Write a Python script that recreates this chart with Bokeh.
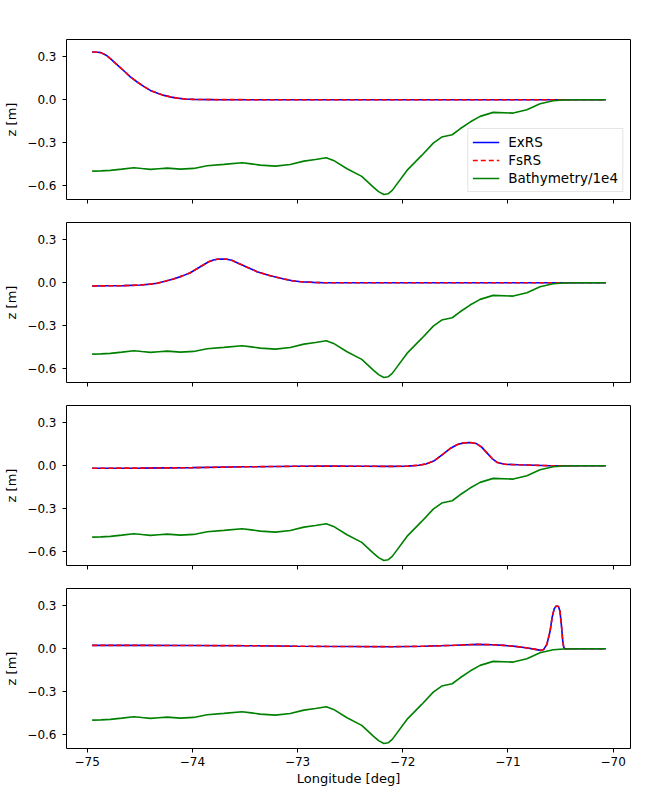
from bokeh.plotting import figure
from bokeh.layouts import column
from bokeh.models import Range1d, FixedTicker, CustomJSTickFormatter, Legend, LegendItem
from bokeh.embed import file_html
from bokeh.resources import INLINE

# ---------------- data ----------------
bathy_lon = [-74.953, -74.87, -74.78, -74.67, -74.557, -74.48, -74.40, -74.32, -74.24,
             -74.114, -73.988, -73.86, -73.70, -73.528, -73.44, -73.354, -73.21, -73.07,
             -72.94, -72.83, -72.727, -72.658, -72.53, -72.39, -72.28, -72.23, -72.18,
             -72.14, -72.10, -71.96, -71.82, -71.71, -71.63, -71.53, -71.455, -71.36,
             -71.265, -71.14, -70.95, -70.82, -70.695, -70.57, -70.47, -70.30, -70.07]
bathy_val = [-0.501, -0.499, -0.496, -0.487, -0.477, -0.483, -0.489, -0.484, -0.480,
             -0.487, -0.482, -0.463, -0.454, -0.442, -0.450, -0.459, -0.466, -0.454,
             -0.431, -0.420, -0.407, -0.426, -0.484, -0.538, -0.613, -0.645, -0.665,
             -0.660, -0.636, -0.496, -0.391, -0.305, -0.262, -0.246, -0.204, -0.157,
             -0.117, -0.089, -0.094, -0.070, -0.028, -0.007, -0.002, 0.0, 0.0]

eta1_lon = [-74.953, -74.90, -74.87, -74.82, -74.78, -74.72, -74.65, -74.59, -74.525,
            -74.46, -74.40, -74.33, -74.27, -74.20, -74.145, -74.07, -73.99, -73.80,
            -73.50, -70.07]
eta1_val = [0.334, 0.333, 0.330, 0.312, 0.288, 0.248, 0.201, 0.160, 0.124,
            0.092, 0.065, 0.045, 0.030, 0.018, 0.011, 0.005, 0.002, 0.0005,
            0.0, 0.0]

eta2_lon = [-74.953, -74.80, -74.65, -74.49, -74.40, -74.335, -74.26, -74.18, -74.10,
            -74.02, -73.925, -73.845, -73.80, -73.765, -73.72, -73.67, -73.62, -73.575,
            -73.48, -73.385, -73.26, -73.13, -73.05, -72.97, -72.85, -72.75, -70.07]
eta2_val = [-0.023, -0.022, -0.021, -0.016, -0.010, -0.004, 0.010, 0.026, 0.046,
            0.070, 0.112, 0.147, 0.159, 0.164, 0.166, 0.164, 0.155, 0.140,
            0.108, 0.077, 0.049, 0.026, 0.014, 0.007, 0.002, 0.0, 0.0]

eta3_lon = [-74.953, -74.5, -74.0, -73.5, -73.0, -72.7, -72.4, -72.1, -71.95, -71.85,
            -71.78, -71.70, -71.62, -71.55, -71.48, -71.42, -71.36, -71.30, -71.25,
            -71.20, -71.15, -71.10, -71.03, -70.90, -70.75, -70.60, -70.07]
eta3_val = [-0.018, -0.017, -0.014, -0.008, -0.004, -0.003, -0.004, -0.005, -0.003, 0.003,
            0.012, 0.035, 0.080, 0.120, 0.148, 0.160, 0.162, 0.155, 0.130,
            0.090, 0.050, 0.022, 0.010, 0.006, 0.003, 0.0, 0.0]

eta4_lon = [-74.953, -74.5, -74.0, -73.5, -73.0, -72.5, -72.1, -71.8, -71.5, -71.29,
            -71.15, -71.04, -70.93, -70.83, -70.75, -70.69, -70.66, -70.63, -70.60,
            -70.58, -70.56, -70.54, -70.52, -70.505, -70.49, -70.48, -70.47, -70.46,
            -70.07]
eta4_val = [0.023, 0.023, 0.022, 0.021, 0.017, 0.015, 0.014, 0.017, 0.024, 0.030,
            0.028, 0.023, 0.016, 0.007, -0.003, -0.012, -0.005, 0.030, 0.120,
            0.220, 0.280, 0.300, 0.295, 0.260, 0.150, 0.060, 0.010, 0.0,
            0.0]

panels = [(eta1_lon, eta1_val), (eta2_lon, eta2_val), (eta3_lon, eta3_val), (eta4_lon, eta4_val)]

y_ticks = [-0.6, -0.3, 0.0, 0.3]
x_ticks = [-75, -74, -73, -72, -71, -70]
series_names = ["ExRS", "FsRS", "Bathymetry/1e4"]

# ---------------- plotting ----------------
FONT = "DejaVu Sans"
TICK_FS = "12px"
LABEL_FS = "13px"
LEGEND_FS = "13.5px"
x_range = Range1d(-75.197, -69.835)

figs = []
for i, (lon, val) in enumerate(panels):
    last = (i == 3)
    p = figure(output_backend="svg", toolbar_location=None,
               frame_width=564, frame_height=160,
               min_border_left=66, min_border_right=2,
               min_border_top=39 if i == 0 else 11,
               min_border_bottom=41 if last else 12,
               x_range=x_range, y_range=Range1d(-0.70, 0.422))
    p.grid.visible = False
    p.outline_line_color = "black"
    p.outline_line_width = 1
    p.background_fill_color = "white"
    p.border_fill_color = "white"

    r1 = p.line(lon, val, line_color="blue", line_width=1.6)
    r2 = p.line(lon, val, line_color="red", line_width=1.6, line_dash="5 3")
    r3 = p.line(bathy_lon, bathy_val, line_color="green", line_width=1.6)

    for ax in (p.xaxis[0], p.yaxis[0]):
        ax.axis_line_color = None
        ax.major_tick_in = 0
        ax.major_tick_out = 4
        ax.minor_tick_in = 0
        ax.minor_tick_out = 0
        ax.major_tick_line_color = "black"
        ax.major_label_text_font = FONT
        ax.major_label_text_font_size = TICK_FS
        ax.major_label_text_color = "black"
        ax.axis_label_text_font = FONT
        ax.axis_label_text_font_size = LABEL_FS
        ax.axis_label_text_font_style = "normal"
        ax.axis_label_text_color = "black"

    p.yaxis.ticker = FixedTicker(ticks=y_ticks)
    p.yaxis.formatter = CustomJSTickFormatter(code="return tick.toFixed(1).replace('-', '\u2212');")
    p.yaxis.major_label_standoff = 6
    p.yaxis.axis_label = "z [m]"
    p.yaxis.axis_label_standoff = 5

    p.xaxis.ticker = FixedTicker(ticks=x_ticks)
    if last:
        p.xaxis.formatter = CustomJSTickFormatter(code="return tick.toFixed(0).replace('-', '\u2212');")
        p.xaxis.major_label_standoff = 4
        p.xaxis.axis_label = "Longitude [deg]"
        p.xaxis.axis_label_standoff = 2
    else:
        # shared x axis: ticks only, no labels
        p.xaxis.formatter = CustomJSTickFormatter(code="return '';")
        p.xaxis.major_label_text_font_size = "1px"
        p.xaxis.major_label_standoff = 0

    if i == 0:
        legend = Legend(items=[LegendItem(label=series_names[0], renderers=[r1]),
                               LegendItem(label=series_names[1], renderers=[r2]),
                               LegendItem(label=series_names[2], renderers=[r3])],
                        location="bottom_right")
        legend.margin = 7
        legend.padding = 4
        legend.spacing = 0
        legend.label_height = 18
        legend.glyph_height = 18
        legend.glyph_width = 27
        legend.label_standoff = 9
        legend.label_text_font = FONT
        legend.label_text_font_size = LEGEND_FS
        legend.label_text_color = "black"
        legend.border_line_color = "#cccccc"
        legend.border_line_width = 1
        legend.background_fill_alpha = 0.8
        p.add_layout(legend, "center")
    figs.append(p)

layout = column(*figs, spacing=0)
open("out.html", "w").write(file_html(layout, INLINE))
